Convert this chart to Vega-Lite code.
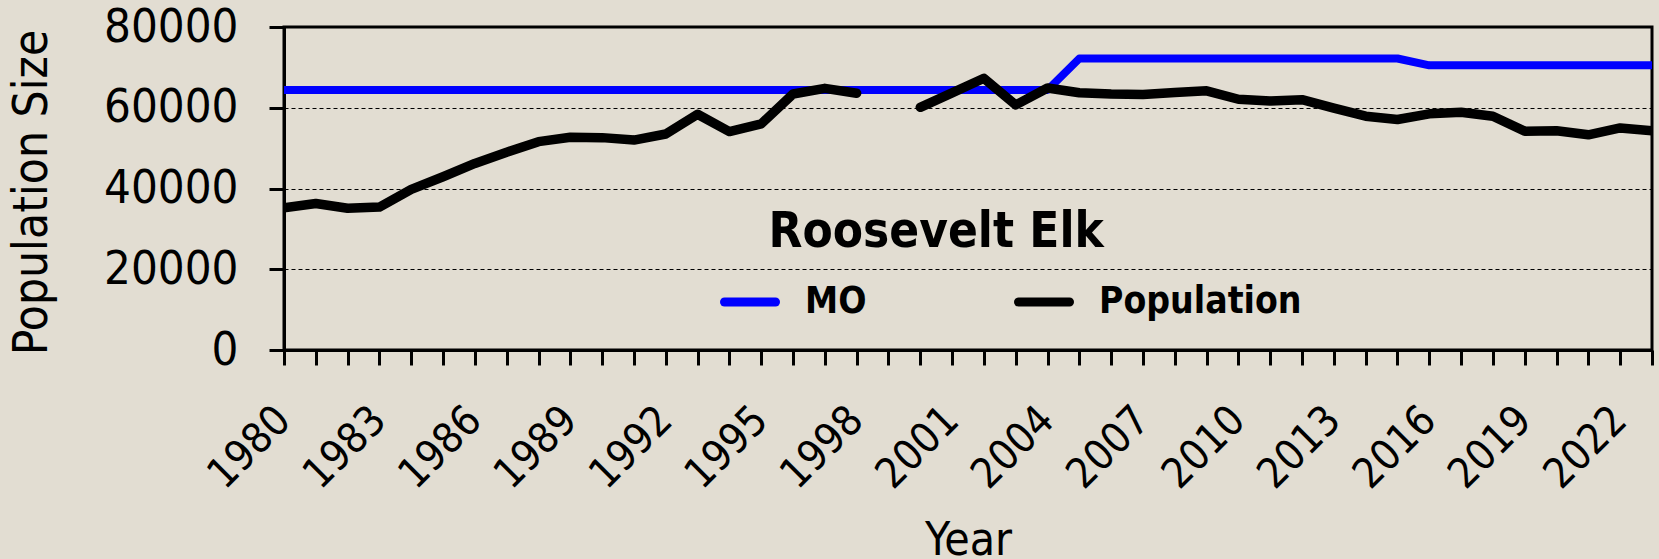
{
  "$schema": "https://vega.github.io/schema/vega-lite/v6.json",
  "width": 1368,
  "height": 323,
  "autosize": "none",
  "padding": {"left": 284, "top": 27, "right": 7, "bottom": 209},
  "background": "#e2ddd2",
  "config": {
    "font": "DejaVu Sans Condensed",
    "view": {"stroke": "#000000", "strokeWidth": 3, "fill": "#e2ddd2"},
    "axis": {"domainColor": "#000000", "domainWidth": 3, "tickColor": "#000000", "tickWidth": 3, "tickSize": 15, "labelColor": "#000000", "titleColor": "#000000", "titleFontWeight": "normal", "labelFont": "DejaVu Sans Condensed", "titleFont": "DejaVu Sans Condensed"}
  },
  "layer": [
    {
      "data": {
        "values": [
          {"year": 1980, "series": "MO", "part": "m", "value": 64400},
          {"year": 1981, "series": "MO", "part": "m", "value": 64400},
          {"year": 1982, "series": "MO", "part": "m", "value": 64400},
          {"year": 1983, "series": "MO", "part": "m", "value": 64400},
          {"year": 1984, "series": "MO", "part": "m", "value": 64400},
          {"year": 1985, "series": "MO", "part": "m", "value": 64400},
          {"year": 1986, "series": "MO", "part": "m", "value": 64400},
          {"year": 1987, "series": "MO", "part": "m", "value": 64400},
          {"year": 1988, "series": "MO", "part": "m", "value": 64400},
          {"year": 1989, "series": "MO", "part": "m", "value": 64400},
          {"year": 1990, "series": "MO", "part": "m", "value": 64400},
          {"year": 1991, "series": "MO", "part": "m", "value": 64400},
          {"year": 1992, "series": "MO", "part": "m", "value": 64400},
          {"year": 1993, "series": "MO", "part": "m", "value": 64400},
          {"year": 1994, "series": "MO", "part": "m", "value": 64400},
          {"year": 1995, "series": "MO", "part": "m", "value": 64400},
          {"year": 1996, "series": "MO", "part": "m", "value": 64400},
          {"year": 1997, "series": "MO", "part": "m", "value": 64400},
          {"year": 1998, "series": "MO", "part": "m", "value": 64400},
          {"year": 1999, "series": "MO", "part": "m", "value": 64400},
          {"year": 2000, "series": "MO", "part": "m", "value": 64400},
          {"year": 2001, "series": "MO", "part": "m", "value": 64400},
          {"year": 2002, "series": "MO", "part": "m", "value": 64400},
          {"year": 2003, "series": "MO", "part": "m", "value": 64400},
          {"year": 2004, "series": "MO", "part": "m", "value": 64400},
          {"year": 2005, "series": "MO", "part": "m", "value": 72200},
          {"year": 2006, "series": "MO", "part": "m", "value": 72200},
          {"year": 2007, "series": "MO", "part": "m", "value": 72200},
          {"year": 2008, "series": "MO", "part": "m", "value": 72200},
          {"year": 2009, "series": "MO", "part": "m", "value": 72200},
          {"year": 2010, "series": "MO", "part": "m", "value": 72200},
          {"year": 2011, "series": "MO", "part": "m", "value": 72200},
          {"year": 2012, "series": "MO", "part": "m", "value": 72200},
          {"year": 2013, "series": "MO", "part": "m", "value": 72200},
          {"year": 2014, "series": "MO", "part": "m", "value": 72200},
          {"year": 2015, "series": "MO", "part": "m", "value": 72200},
          {"year": 2016, "series": "MO", "part": "m", "value": 70500},
          {"year": 2017, "series": "MO", "part": "m", "value": 70500},
          {"year": 2018, "series": "MO", "part": "m", "value": 70500},
          {"year": 2019, "series": "MO", "part": "m", "value": 70500},
          {"year": 2020, "series": "MO", "part": "m", "value": 70500},
          {"year": 2021, "series": "MO", "part": "m", "value": 70500},
          {"year": 2022, "series": "MO", "part": "m", "value": 70500},
          {"year": 2023, "series": "MO", "part": "m", "value": 70500},
          {"year": 1980, "series": "Population", "part": "a", "value": 35250},
          {"year": 1981, "series": "Population", "part": "a", "value": 36300},
          {"year": 1982, "series": "Population", "part": "a", "value": 35100},
          {"year": 1983, "series": "Population", "part": "a", "value": 35400},
          {"year": 1984, "series": "Population", "part": "a", "value": 39800},
          {"year": 1985, "series": "Population", "part": "a", "value": 42900},
          {"year": 1986, "series": "Population", "part": "a", "value": 46200},
          {"year": 1987, "series": "Population", "part": "a", "value": 49000},
          {"year": 1988, "series": "Population", "part": "a", "value": 51600},
          {"year": 1989, "series": "Population", "part": "a", "value": 52700},
          {"year": 1990, "series": "Population", "part": "a", "value": 52600},
          {"year": 1991, "series": "Population", "part": "a", "value": 52000},
          {"year": 1992, "series": "Population", "part": "a", "value": 53500},
          {"year": 1993, "series": "Population", "part": "a", "value": 58400},
          {"year": 1994, "series": "Population", "part": "a", "value": 54100},
          {"year": 1995, "series": "Population", "part": "a", "value": 56000},
          {"year": 1996, "series": "Population", "part": "a", "value": 63400},
          {"year": 1997, "series": "Population", "part": "a", "value": 64800},
          {"year": 1998, "series": "Population", "part": "a", "value": 63600},
          {"year": 2000, "series": "Population", "part": "b", "value": 60100},
          {"year": 2001, "series": "Population", "part": "b", "value": 63700},
          {"year": 2002, "series": "Population", "part": "b", "value": 67300},
          {"year": 2003, "series": "Population", "part": "b", "value": 60700},
          {"year": 2004, "series": "Population", "part": "b", "value": 64900},
          {"year": 2005, "series": "Population", "part": "b", "value": 63700},
          {"year": 2006, "series": "Population", "part": "b", "value": 63400},
          {"year": 2007, "series": "Population", "part": "b", "value": 63300},
          {"year": 2008, "series": "Population", "part": "b", "value": 63800},
          {"year": 2009, "series": "Population", "part": "b", "value": 64200},
          {"year": 2010, "series": "Population", "part": "b", "value": 62100},
          {"year": 2011, "series": "Population", "part": "b", "value": 61700},
          {"year": 2012, "series": "Population", "part": "b", "value": 62000},
          {"year": 2013, "series": "Population", "part": "b", "value": 59900},
          {"year": 2014, "series": "Population", "part": "b", "value": 57900},
          {"year": 2015, "series": "Population", "part": "b", "value": 57100},
          {"year": 2016, "series": "Population", "part": "b", "value": 58500},
          {"year": 2017, "series": "Population", "part": "b", "value": 58900},
          {"year": 2018, "series": "Population", "part": "b", "value": 57900},
          {"year": 2019, "series": "Population", "part": "b", "value": 54200},
          {"year": 2020, "series": "Population", "part": "b", "value": 54300},
          {"year": 2021, "series": "Population", "part": "b", "value": 53300},
          {"year": 2022, "series": "Population", "part": "b", "value": 55000},
          {"year": 2023, "series": "Population", "part": "b", "value": 54300}
        ]
      },
      "encoding": {
        "x": {
          "field": "year", "type": "quantitative",
          "scale": {"domain": [1980, 2023], "nice": false, "zero": false},
          "axis": {
            "title": "Year",
            "values": [1980,1981,1982,1983,1984,1985,1986,1987,1988,1989,1990,1991,1992,1993,1994,1995,1996,1997,1998,1999,2000,2001,2002,2003,2004,2005,2006,2007,2008,2009,2010,2011,2012,2013,2014,2015,2016,2017,2018,2019,2020,2021,2022,2023],
            "tickCount": 100,
            "labelExpr": "(datum.value - 1980) % 3 == 0 ? datum.value + '' : ''",
            "labelAngle": -45,
            "labelFontSize": 42,
            "labelPadding": 34,
            "labelOffset": -15,
            "labelOverlap": false,
            "labelFlush": false,
            "grid": false,
            "titleFontSize": 46,
            "titleX": 684,
            "titleY": 204,
            "titleBaseline": "alphabetic",
            "titleAlign": "center"
          }
        },
        "y": {
          "field": "value", "type": "quantitative",
          "scale": {"domain": [0, 80000], "nice": false},
          "axis": {
            "title": "Population Size",
            "values": [0, 20000, 40000, 60000, 80000],
            "format": "d",
            "labelFontSize": 47,
            "labelPadding": 31,
            "grid": true,
            "gridColor": "#000000",
            "gridWidth": 1,
            "gridDash": [4, 3],
            "titleFontSize": 47.5,
            "titleX": -252,
            "titleY": 165,
            "titleAngle": -90,
            "titleBaseline": "middle",
            "titleAlign": "center"
          }
        },
        "color": {
          "field": "series", "type": "nominal",
          "scale": {"domain": ["MO", "Population"], "range": ["#0000ff", "#000000"]},
          "legend": {
            "orient": "none",
            "legendX": 436,
            "legendY": 245,
            "direction": "horizontal",
            "columns": 2,
            "title": null,
            "symbolType": "stroke",
            "symbolSize": 2601,
            "symbolStrokeWidth": 9,
            "labelFontSize": 37,
            "labelFontWeight": "bold",
            "labelColor": "#000000",
            "labelFont": "DejaVu Sans Condensed",
            "labelLimit": 400,
            "labelOffset": 25,
            "columnPadding": 133,
            "encode": {
              "symbols": {
                "update": {
                  "strokeCap": {"value": "round"}
                }
              }
            }
          }
        },
        "detail": {"field": "part"}
      },
      "layer": [
        {
          "transform": [{"filter": "datum.series === 'MO'"}],
          "mark": {"type": "line", "strokeWidth": 8, "strokeCap": "round", "strokeJoin": "round", "clip": true}
        },
        {
          "transform": [{"filter": "datum.series === 'Population'"}],
          "mark": {"type": "line", "strokeWidth": 9.5, "strokeCap": "round", "strokeJoin": "round", "clip": true}
        }
      ]
    },
    {
      "data": {"values": [{"label": "Roosevelt Elk"}]},
      "mark": {"type": "text", "fontSize": 49, "fontWeight": "bold", "font": "DejaVu Sans Condensed", "align": "center", "baseline": "alphabetic", "color": "#000000"},
      "encoding": {
        "x": {"datum": 2000.5, "type": "quantitative"},
        "y": {"datum": 25500, "type": "quantitative"},
        "text": {"field": "label"}
      }
    }
  ]
}
